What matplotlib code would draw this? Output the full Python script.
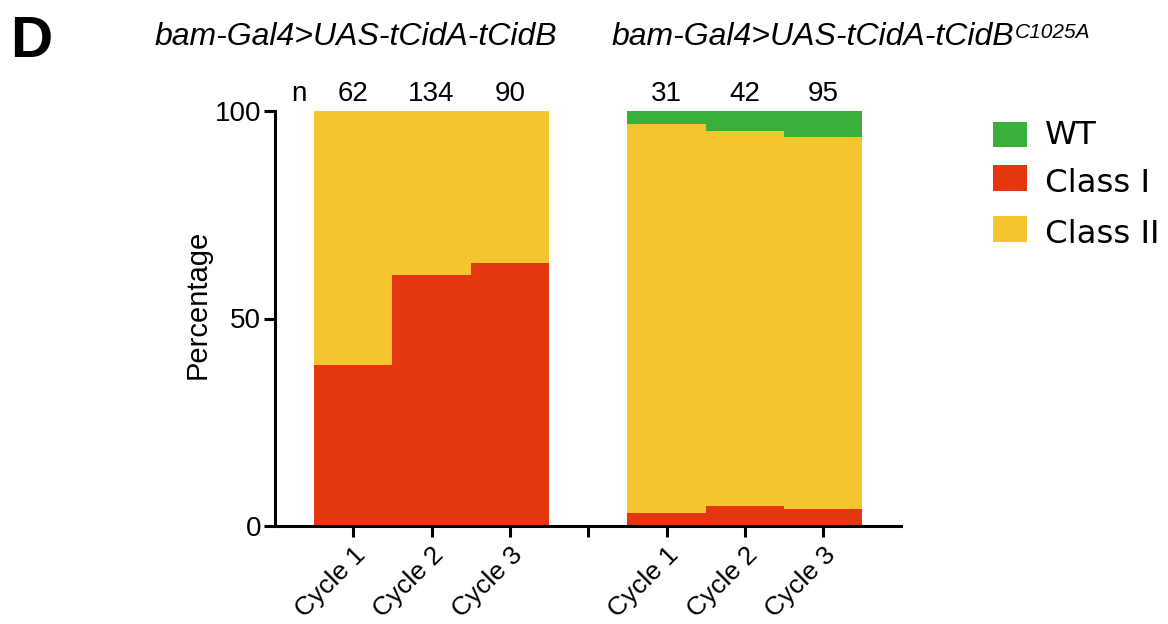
import matplotlib
matplotlib.use("Agg")
import matplotlib.pyplot as plt
from matplotlib.patches import Rectangle
import numpy as np

plt.rcParams['font.family'] = ['Liberation Sans', 'DejaVu Sans']

# Data
cycles = ["Cycle 1", "Cycle 2", "Cycle 3"]
n_left = [62, 134, 90]
n_right = [31, 42, 95]
classI_left = [38.7, 60.4, 63.3]
classII_left = [61.3, 39.6, 36.7]
wt_left = [0, 0, 0]
classI_right = [3.2, 4.8, 4.2]
wt_right = [3.2, 4.8, 6.3]
classII_right = [93.6, 90.4, 89.5]
title_left = "bam-Gal4>UAS-tCidA-tCidB"
title_right = "bam-Gal4>UAS-tCidA-tCidB"
title_right_sup = "C1025A"
legend_labels = ["WT", "Class I", "Class II"]

c_wt = "#38B03A"
c_c1 = "#E5370F"
c_c2 = "#F5C530"

W, H = 1168, 624
fig = plt.figure(figsize=(W/100, H/100), dpi=100)
ax = fig.add_axes([275/W, 1-526/H, (901.5-275)/W, (526-111)/H])

pos_left = np.array([1, 2, 3])
pos_right = np.array([5, 6, 7])
c1 = np.array(classI_left + classI_right)
c2 = np.array(classII_left + classII_right)
wt = np.array(wt_left + wt_right)
pos = np.concatenate([pos_left, pos_right])

ax.bar(pos, c1, width=1.0, color=c_c1, linewidth=0)
ax.bar(pos, c2, width=1.0, bottom=c1, color=c_c2, linewidth=0)
ax.bar(pos, wt, width=1.0, bottom=c1 + c2, color=c_wt, linewidth=0)

ax.set_xlim(0, 8)
ax.set_ylim(0, 100)
ax.spines['top'].set_visible(False)
ax.spines['right'].set_visible(False)
ax.spines['left'].set_linewidth(2.2)
ax.spines['bottom'].set_linewidth(2.2)
ax.set_yticks([0, 50, 100])
ax.set_xticks([1, 2, 3, 4, 5, 6, 7])
ax.set_xticklabels(cycles + [""] + cycles, rotation=45, ha='right', rotation_mode='anchor')
ax.tick_params(axis='both', width=2.2, length=8, labelsize=20)
ax.tick_params(axis='y', pad=2)
ax.tick_params(axis='x', pad=4, labelsize=19)

fig.text(198/W, 1-304/H, "Percentage", rotation=90, ha='center', va='center', fontsize=21)

for p, n in zip(pos, n_left + n_right):
    ax.text(p, 102.4, str(n), ha='center', va='baseline', fontsize=20)
ax.text(0.3, 102.4, "n", ha='center', va='baseline', fontsize=20)

fig.text(356/W, 1-45/H, title_left, ha='center', va='baseline', fontsize=23, style='italic')
t2 = fig.text(612/W, 1-45/H, title_right, ha='left', va='baseline', fontsize=23, style='italic')
ax.annotate(title_right_sup, xy=(1.0, 1.0), xycoords=t2, xytext=(0.5, -1), textcoords='offset points',
            ha='left', va='top', fontsize=15, style='italic', annotation_clip=False)
fig.text(10/W, 1-57/H, "D", ha='left', va='baseline', fontsize=42, fontweight='bold')

# Legend (manual)
patch_tops = [121.5, 165, 216]
text_base = [144.5, 192.3, 242.7]
colors = [c_wt, c_c1, c_c2]
for top, base, col, lab in zip(patch_tops, text_base, colors, legend_labels):
    fig.patches.append(Rectangle((993/W, 1-(top+25.5)/H), 34/W, 25.5/H,
                                 transform=fig.transFigure, facecolor=col, edgecolor='none'))
    fig.text(1045/W, 1-base/H, lab, ha='left', va='baseline', fontsize=23.3, family='DejaVu Sans')

fig.savefig("out.png", dpi=100)
